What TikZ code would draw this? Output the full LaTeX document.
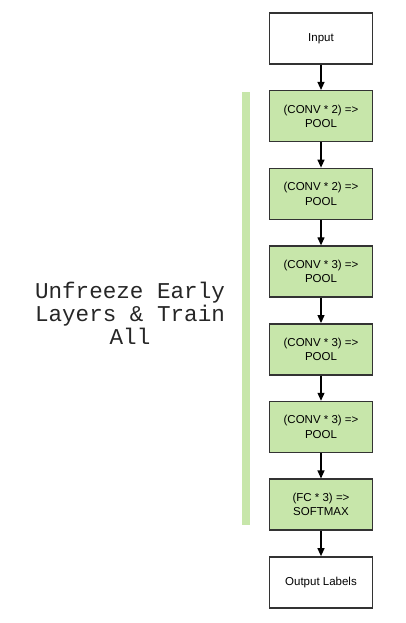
\documentclass[tikz,border=0pt]{standalone}
\usepackage{fontspec}
\setmainfont{Liberation Sans}
\newfontfamily\monof{Liberation Mono}
\usetikzlibrary{arrows.meta}
\definecolor{lgreen}{RGB}{199,230,170}
\definecolor{bord}{RGB}{51,51,51}
\begin{document}
\begin{tikzpicture}[x=1pt,y=-1pt,
  blk/.style={draw=bord,line width=1.5pt,minimum width=103pt,minimum height=51pt,inner sep=0pt,align=center,
    font=\fontsize{11.5}{14.3}\selectfont},
  gblk/.style={blk,fill=lgreen},
  wblk/.style={blk,fill=white},
  conn/.style={draw=black,line width=1.2pt,-{Triangle[length=8pt,width=7pt]}}]
\useasboundingbox (0,0) rectangle (405,623);
\fill[lgreen] (242,92) rectangle (250,525);
\node[wblk] (in) at (321,38.5) {Input};
\node[gblk] (b1) at (321,116.2) {(CONV * 2) =>\\POOL};
\node[gblk] (b2) at (321,193.9) {(CONV * 2) =>\\POOL};
\node[gblk] (b3) at (321,271.6) {(CONV * 3) =>\\POOL};
\node[gblk] (b4) at (321,349.3) {(CONV * 3) =>\\POOL};
\node[gblk] (b5) at (321,427) {(CONV * 3) =>\\POOL};
\node[gblk] (b6) at (321,504.7) {(FC * 3) =>\\SOFTMAX};
\node[wblk] (out) at (321,582.4) {Output Labels};
\foreach \a/\b in {in/b1,b1/b2,b2/b3,b3/b4,b4/b5,b5/b6,b6/out}
  \draw[conn] (\a) -- (\b);
\node[align=center,font=\monof\fontsize{22.6}{23}\selectfont,text=black!85] (lbl) at (130,313)
  {Unfreeze Early\\Layers \& Train\\All};
\end{tikzpicture}
\end{document}
